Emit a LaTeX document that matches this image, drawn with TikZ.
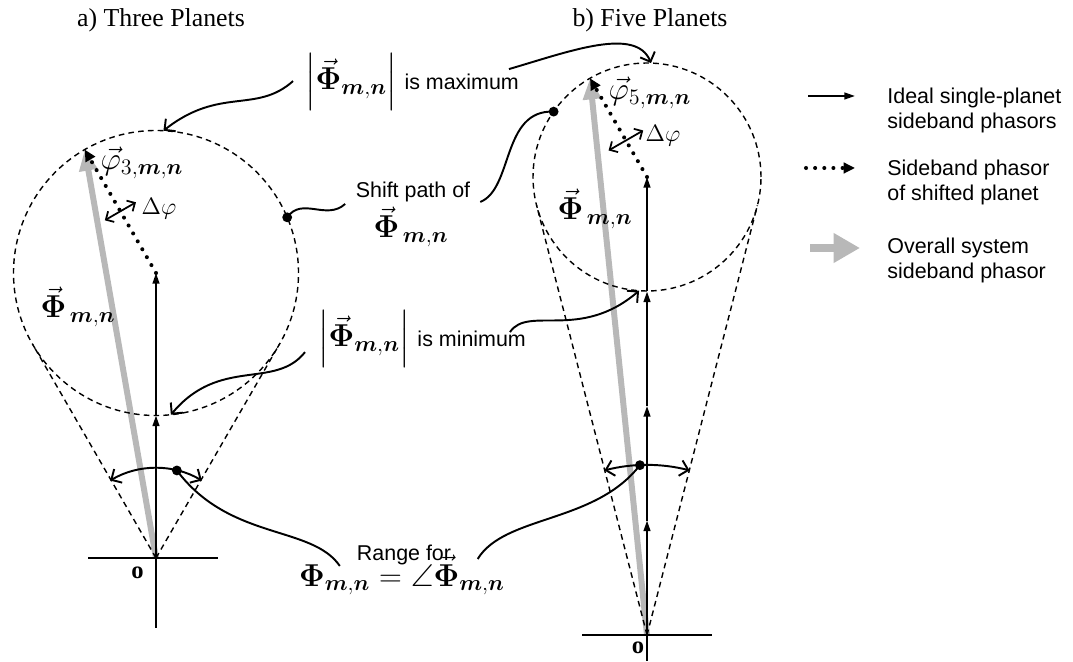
\RequirePackage{fix-cm}
\documentclass[tikz,border=0pt]{standalone}
\usepackage{amsmath,amssymb}
\usepackage[no-math]{fontspec}
\setmainfont{Liberation Serif}
\setsansfont{Liberation Sans}
\usepackage{tikz}
\usetikzlibrary{arrows.meta,positioning,calc}
\newcommand{\Phv}{\vec{\mathbf{\Phi}}}
\newcommand{\mn}{\boldsymbol{m},\boldsymbol{n}}
\newcommand{\txtsz}{\sffamily\fontsize{12.2}{14.2}\selectfont}
\newcommand{\mathsz}{\fontsize{18}{21}\selectfont}
\tikzset{
  ideal/.style   ={line width=1.1pt,-{Triangle[length=6pt,width=3.8pt]}},
  shifted/.style ={line width=2.3pt,line cap=round,dash pattern=on 0pt off 5.2pt,-{Triangle[length=6.5pt,width=6pt]}},
  overall/.style ={line width=3.4pt,draw=black!28,-{Triangle[length=12pt,width=10pt]}},
  locus/.style   ={circle,draw,line width=0.8pt,dash pattern=on 3.2pt off 2.4pt,inner sep=0pt,outer sep=0pt},
  tang/.style    ={line width=0.8pt,dash pattern=on 3.2pt off 2.4pt},
  axis/.style    ={line width=1.1pt},
  note/.style    ={line width=1.1pt,-{Straight Barb[length=4.5pt,width=9pt]}},
  link/.style    ={line width=1.1pt},
  swing/.style   ={line width=1.1pt,{Straight Barb[length=4.5pt,width=9pt]}-{Straight Barb[length=4.5pt,width=9pt]}},
  dphi/.style    ={line width=1pt,{Straight Barb[length=3.5pt,width=7pt]}-{Straight Barb[length=3.5pt,width=7pt]}},
  dotm/.style    ={circle,fill=black,minimum size=5.6pt,inner sep=0pt},
  txt/.style     ={font=\txtsz,inner sep=1pt,anchor=base},
  ttl/.style     ={font=\fontsize{14.7}{17}\selectfont,inner sep=1pt,anchor=base},
  orig/.style    ={font=\fontsize{14}{16}\selectfont\bfseries,inner sep=1pt,anchor=base},
  bigm/.style    ={font=\mathsz,inner sep=1pt,anchor=base},
  midm/.style    ={font=\fontsize{18}{20}\selectfont,inner sep=1pt,anchor=base},
  dm/.style      ={font=\fontsize{13.5}{16}\selectfont,inner sep=1pt,anchor=base},
  leg/.style     ={font=\txtsz,align=left,inner sep=0pt,anchor=north west},
}

\begin{document}
\begin{tikzpicture}
  \useasboundingbox (0,0) rectangle (21.46,13.22);

  % titles
  \node[ttl] (ttlA) at (3.22,12.68) {a) Three Planets};
  \node[ttl] (ttlB) at (13.0,12.68) {b) Five Planets};

  % a) three planets
  \coordinate (oA) at (3.12,2.06);
  \coordinate (ctrA) at (3.12,7.76);
  \coordinate (pA1) at (3.12,4.91);
  \coordinate (qA) at ($(ctrA)+(120:2.85)$);
  \draw[overall] (oA) -- (qA);
  \node[locus,minimum size=5.7cm] (cA) at (ctrA) {};
  \draw[tang] (oA) -- (tangent cs:node=cA,point={(oA)},solution=1);
  \draw[tang] (oA) -- (tangent cs:node=cA,point={(oA)},solution=2);
  \draw[axis] ($(oA)+(-1.36,0)$) -- ($(oA)+(1.24,0)$);
  \draw[axis] (oA) -- ++(0,-1.4);
  \draw[ideal] (oA) -- (pA1);
  \draw[ideal] (pA1) -- (ctrA);
  \draw[shifted] (ctrA) -- (qA);
  \coordinate (mA) at ($(ctrA)!0.5!(qA)$);
  \draw[dphi] ($(mA)+(210:0.36)$) -- ($(mA)+(30:0.36)$);
  \draw[swing] ($(oA)+(120.6:1.8)$) arc[start angle=120.6,end angle=59.4,radius=1.8];
  \node[dotm] (rA) at ($(oA)+(76.6:1.8)$) {};
  \node[dotm] (sA) at (cA.23) {};
  \node[midm] (phiA) at (2.84,9.82) {$\vec{\varphi}_{3,\mn}$};
  \node[dm] (dA) at (3.18,8.92) {$\Delta\varphi$};
  \node[bigm] (PA) at (1.56,6.86) {$\Phv_{\,\mn}$};
  \node[orig] (oAl) at (2.75,1.66) {o};

  % b) five planets
  \coordinate (oB) at (12.94,0.52);
  \coordinate (ctrB) at (12.94,9.68);
  \foreach \k in {1,2,3}
    \coordinate (pB\k) at ($(oB)+(0,\k*2.29)$);
  \coordinate (qB) at ($(ctrB)+(120:2.28)$);
  \draw[overall] (oB) -- (qB);
  \node[locus,minimum size=4.56cm] (cB) at (ctrB) {};
  \draw[tang] (oB) -- (tangent cs:node=cB,point={(oB)},solution=1);
  \draw[tang] (oB) -- (tangent cs:node=cB,point={(oB)},solution=2);
  \draw[axis] ($(oB)+(-1.3,0)$) -- ($(oB)+(1.3,0)$);
  \draw[axis] (oB) -- ++(0,-0.52);
  \draw[ideal] (oB) -- (pB1);
  \draw[ideal] (pB1) -- (pB2);
  \draw[ideal] (pB2) -- (pB3);
  \draw[ideal] (pB3) -- (ctrB);
  \draw[shifted] (ctrB) -- (qB);
  \coordinate (mB) at ($(ctrB)!0.37!(qB)$);
  \draw[dphi] ($(mB)+(210:0.4)$) -- ($(mB)+(30:0.4)$);
  \draw[swing] ($(oB)+(104.5:3.4)$) arc[start angle=104.5,end angle=75.5,radius=3.4];
  \node[dotm] (rB) at ($(oB)+(92.4:3.4)$) {};
  \node[dotm] (sB) at (cB.145) {};
  \node[midm] (phiB) at (13.0,11.22) {$\vec{\varphi}_{5,\mn}$};
  \node[dm] (dB) at (13.26,10.38) {$\Delta\varphi$};
  \node[bigm] (PB) at (11.9,8.82) {$\Phv_{\,\mn}$};
  \node[orig] (oBl) at (12.76,0.16) {o};

  % middle labels
  \node[bigm] (maxlbl) at (8.24,11.42) {$\left|\Phv_{\mn}\right|$\hspace{4pt}{\txtsz is maximum}};
  \node[bigm] (minlbl) at (8.44,6.28) {$\left|\Phv_{\mn}\right|$\hspace{4pt}{\txtsz is minimum}};
  \node[txt] (shiftlbl) at (8.26,9.26) {Shift path of};
  \node[bigm] (shiftphi) at (8.22,8.46) {$\Phv_{\,\mn}$};
  \node[txt] (rangelbl) at (8.08,2.02) {Range for};
  \node[bigm] (rangeeq) at (8.04,1.5) {$\mathbf{\Phi}_{\mn}=\angle\Phv_{\mn}$};

  \draw[note] ([shift={(-0.2,0.02)}]maxlbl.west) .. controls +(-0.74,-0.66) and +(1.13,0.89) .. (cA.87);
  \draw[note] ([shift={(-0.24,0.26)}]maxlbl.east) .. controls +(1.2,0.35) and +(-0.3,0.74) .. (cB.88);
  \draw[note] ([shift={(-0.22,-0.26)}]minlbl.west) .. controls +(-0.6,-0.76) and +(0.98,1.17) .. (cA.-84);
  \draw[note] ([shift={(-0.36,0.14)}]minlbl.east) .. controls +(0.36,0.54) and +(-1.18,-1.01) .. (cB.-94);
  \draw[link] (sA.center) .. controls +(0.3,0.42) and +(-0.38,-0.34) .. ([shift={(-0.17,-0.23)}]shiftlbl.west);
  \draw[link] ([shift={(0.16,-0.19)}]shiftlbl.east) .. controls +(0.66,0.27) and +(-1.04,0.04) .. (sB.center);
  \draw[link] ([shift={(-0.3,-0.23)}]rangelbl.west) .. controls +(-0.56,0.82) and +(1.06,-1.41) .. (rA.center);
  \draw[link] ([shift={(0.49,-0.09)}]rangelbl.east) .. controls +(0.54,0.88) and +(-0.9,-1.17) .. (rB.center);

  % legend
  \coordinate (k1a) at (16.16,11.3);
  \coordinate (k1b) at (17.1,11.3);
  \coordinate (k2a) at (16.12,9.86);
  \coordinate (k2b) at (17.1,9.86);
  \coordinate (k3a) at (16.2,8.26);
  \coordinate (k3b) at (17.2,8.26);
  \draw[ideal] (k1a) -- (k1b);
  \draw[shifted] (k2a) -- (k2b);
  \draw[overall,line width=4.5pt,-{Triangle[length=15pt,width=16pt]}] (k3a) -- (k3b);
  \node[leg] (leg1) at (17.74,11.46) {Ideal single-planet\\sideband phasors};
  \node[leg] (leg2) at (17.74,10.02) {Sideband phasor\\of shifted planet};
  \node[leg] (leg3) at (17.74,8.46) {Overall system\\sideband phasor};
\end{tikzpicture}
\end{document}
